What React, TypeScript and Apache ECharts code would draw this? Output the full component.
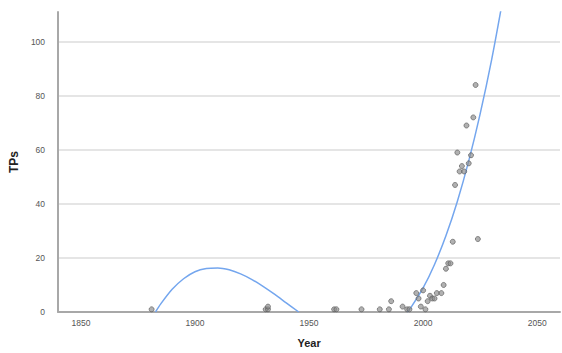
import React, { useEffect, useRef } from "react";
import * as echarts from "echarts";

// Observed points (Year, TPs)
const years = [
  1881, 1931, 1932, 1932, 1961, 1962, 1973, 1981, 1985, 1986, 1991, 1993, 1994,
  1997, 1998, 1999, 2000, 2001, 2002, 2003, 2004, 2005, 2006, 2008, 2009, 2010,
  2011, 2012, 2013, 2014, 2015, 2016, 2017, 2018, 2019, 2020, 2021, 2022, 2023, 2024,
];
const tps = [
  1, 1, 1, 2, 1, 1, 1, 1, 1, 4, 2, 1, 1,
  7, 5, 2, 8, 1, 4, 6, 5, 5, 7, 7, 10, 16,
  18, 18, 26, 47, 59, 52, 54, 52, 69, 55, 58, 72, 84, 27,
];

// Fit curve (visible parts only, values >= 0)
const fitLeftYears = [1882.7, 1885, 1890, 1895, 1900, 1905, 1910, 1915, 1920, 1925, 1930, 1935, 1940, 1945.5];
const fitLeftVals = [0, 3.0, 8.4, 12.3, 14.9, 16.1, 16.3, 15.6, 14.1, 12.0, 9.4, 6.5, 3.4, 0];
const fitRightYears = [1993.1, 1995, 2000, 2005, 2010, 2015, 2020, 2025, 2030, 2035];
const fitRightVals = [0, 2.1, 8.9, 17.6, 28.2, 40.9, 55.9, 73.3, 93.2, 116];

const xTickLabels = [1850, 1900, 1950, 2000, 2050];

const FONT = "'Liberation Sans', Arial, sans-serif";

export default function App() {
  const ref = useRef<HTMLDivElement>(null);
  useEffect(() => {
    if (!ref.current) return;
    const chart = echarts.init(ref.current, undefined, { renderer: "svg" });
    const points = years.map((y, i) => [y, tps[i]]);
    const left = fitLeftYears.map((y, i) => [y, fitLeftVals[i]]);
    const right = fitRightYears.map((y, i) => [y, fitRightVals[i]]);
    chart.setOption({
      animation: false,
      backgroundColor: "#ffffff",
      textStyle: { fontFamily: FONT },
      grid: { left: 49, right: 2, top: 12, bottom: 36, containLabel: false },
      xAxis: {
        type: "value",
        min: 1840,
        max: 2060,
        name: "Year",
        nameLocation: "middle",
        nameGap: 25,
        nameTextStyle: { fontSize: 11, fontWeight: "bold", color: "#222", fontFamily: FONT },
        axisLine: { show: true, onZero: false, lineStyle: { color: "#a8a8a8", width: 2 } },
        axisTick: { show: false },
        splitLine: { show: false },
        axisLabel: {
          customValues: xTickLabels,
          formatter: (v: number) => String(v),
          fontSize: 8.5,
          color: "#555",
          margin: 6,
          fontFamily: FONT,
        },
      },
      yAxis: {
        type: "value",
        min: 0,
        max: 111,
        interval: 20,
        name: "TPs",
        nameLocation: "middle",
        nameGap: 28,
        nameTextStyle: { fontSize: 12, fontWeight: "bold", color: "#222", fontFamily: FONT },
        axisLine: { show: true, lineStyle: { color: "#a8a8a8", width: 2 } },
        axisTick: { show: false },
        splitLine: {
          show: true,
          lineStyle: { color: ["#dcdcdc", "#dcdcdc", "#dcdcdc", "#dcdcdc", "#dcdcdc", "#dcdcdc", "rgba(0,0,0,0)"], width: 1.5 },
        },
        axisLabel: {
          fontSize: 8.5,
          color: "#555",
          margin: 13,
          fontFamily: FONT,
          showMaxLabel: false,
        },
      },
      series: [
        {
          type: "line",
          data: left,
          showSymbol: false,
          smooth: 0.3,
          clip: true,
          lineStyle: { color: "#74a6ee", width: 1.5 },
          z: 2,
        },
        {
          type: "line",
          data: right,
          showSymbol: false,
          smooth: 0.3,
          clip: true,
          lineStyle: { color: "#74a6ee", width: 1.5 },
          z: 2,
        },
        {
          type: "scatter",
          data: points,
          symbol: "circle",
          symbolSize: 5,
          itemStyle: { color: "rgba(140,140,140,0.85)", borderColor: "#555", borderWidth: 0.8 },
          z: 3,
        },
      ],
    });
    return () => chart.dispose();
  }, []);
  return <div ref={ref} style={{ width: 562, height: 353, position: "absolute", left: 0, top: 0 }} />;
}
